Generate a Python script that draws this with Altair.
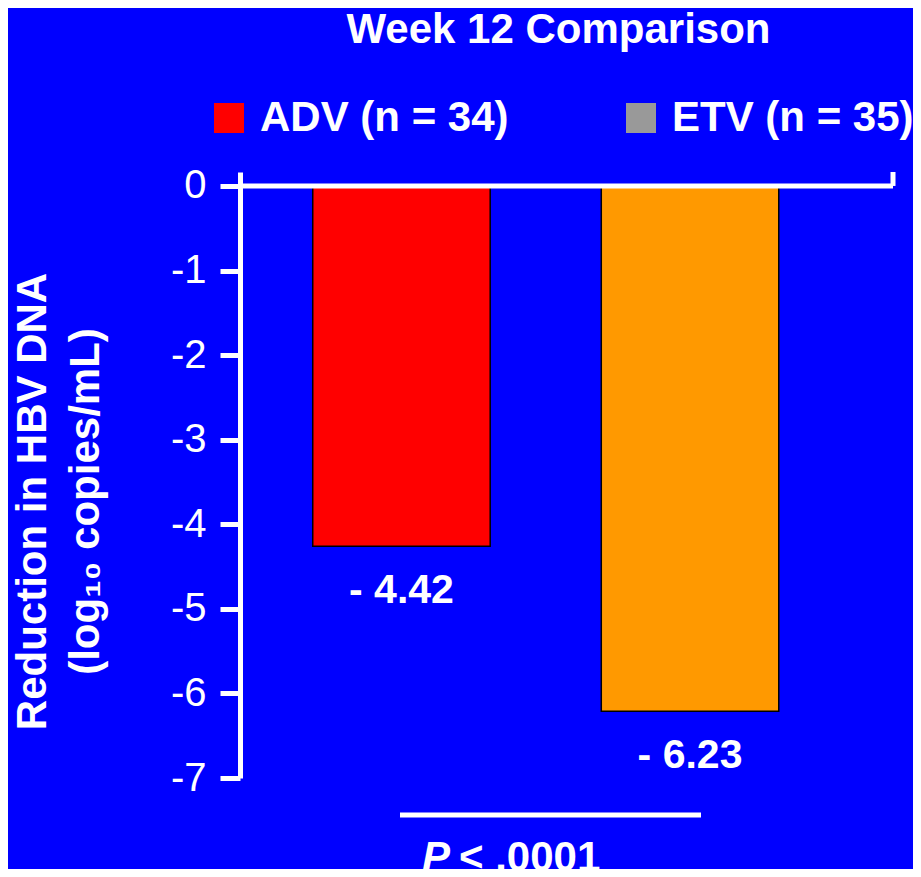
import altair as alt
import pandas as pd

# ---- data ----
groups = ["ADV", "ETV"]
reductions = [-4.26, -6.21]          # bar ends as drawn
value_labels = ["- 4.42", "- 6.23"]  # printed values
bar_colors = ["#FF0000", "#FF9900"]
legend_labels = ["ADV (n = 34)", "ETV (n = 35)"]
legend_colors = ["#FF0000", "#999999"]
y_ticks = [0, -1, -2, -3, -4, -5, -6, -7]
title_text = "Week 12 Comparison"
y_title = ["Reduction in HBV DNA", "(log₁₀ copies/mL)"]
p_italic = "P"
p_rest = "< .0001"

W, H = 653, 606
FONT = "Liberation Sans"
BLUE = "#0000FF"

bars_df = pd.DataFrame({"group": groups, "value": reductions, "label": value_labels})
legend_df = pd.DataFrame({"group": groups, "legend": legend_labels})
one = pd.DataFrame({"z": [0]})

xenc = alt.X("group:N", sort=groups, axis=None,
             scale=alt.Scale(paddingInner=0.385, paddingOuter=0.324, align=0.389))
yscale = alt.Scale(domain=[-7, 0.165], nice=False, zero=False)

bars = alt.Chart(bars_df).mark_bar(stroke="black", strokeWidth=1.5).encode(
    x=xenc,
    y=alt.Y("value:Q", scale=yscale,
            axis=alt.Axis(values=y_ticks, title=y_title, grid=False,
                          labelExpr="datum.value == 0 ? '0' : '-' + abs(datum.value)",
                          domainColor="white", domainWidth=5,
                          tickColor="white", tickWidth=5, tickSize=20,
                          labelFont=FONT, labelFontSize=40, labelColor="white",
                          labelPadding=14,
                          titleFont=FONT, titleFontSize=42, titleFontWeight="bold",
                          titleColor="white", titleLineHeight=53, titleAngle=270,
                          titleAlign="center", titleBaseline="middle",
                          titleX=-208, titleY=329)),
    y2=alt.datum(0),
    fill=alt.Fill("group:N", scale=alt.Scale(domain=groups, range=bar_colors), legend=None),
)

labels = alt.Chart(bars_df).mark_text(
    dy=45, baseline="middle", font=FONT, fontSize=41, fontWeight="bold", color="white"
).encode(x=xenc, y=alt.Y("value:Q"), text="label:N")

leg = alt.Chart(legend_df).mark_square(opacity=0).encode(
    x=xenc,
    y=alt.datum(0),
    color=alt.Color("legend:N", scale=alt.Scale(domain=legend_labels, range=legend_colors),
                    legend=alt.Legend(title=None, orient="none", legendX=-32, legendY=-75,
                                      direction="horizontal", symbolType="square",
                                      symbolSize=900, symbolOpacity=1, symbolStrokeWidth=0,
                                      labelFont=FONT, labelFontSize=42, labelFontWeight="bold",
                                      labelColor="white", labelOffset=10, columnPadding=111,
                                      labelLimit=400, padding=0)),
)

top_line = alt.Chart(one).mark_rule(color="white", strokeWidth=5).encode(
    x=alt.value(0), x2=alt.value(W), y=alt.datum(0))
right_stub = alt.Chart(one).mark_rule(color="white", strokeWidth=5).encode(
    x=alt.value(W), y=alt.datum(0), y2=alt.value(0))
bracket = alt.Chart(one).mark_rule(color="white", strokeWidth=5).encode(
    x=alt.value(160), x2=alt.value(461), y=alt.value(643))
p1 = alt.Chart(one).mark_text(align="left", baseline="middle", font=FONT, fontSize=42,
                              fontWeight="bold", fontStyle="italic", color="white").encode(
    x=alt.value(182), y=alt.value(686), text=alt.value(p_italic))
p2 = alt.Chart(one).mark_text(align="left", baseline="middle", font=FONT, fontSize=42,
                              fontWeight="bold", color="white").encode(
    x=alt.value(219), y=alt.value(686), text=alt.value(p_rest))

chart = alt.layer(bars, labels, leg, top_line, right_stub, bracket, p1, p2).properties(
    width=W, height=H,
    title=alt.TitleParams(text=title_text, anchor="middle", font=FONT, fontSize=42,
                          fontWeight="bold", color="white", offset=12, dx=-8,
                          baseline="alphabetic"),
    padding={"left": 232, "top": 164, "right": 20, "bottom": 91},
    autosize=alt.AutoSizeParams(type="none"),
    background=BLUE,
).configure_view(stroke=None)

chart.save("out.html", embed_options={"renderer": "svg", "actions": False})
